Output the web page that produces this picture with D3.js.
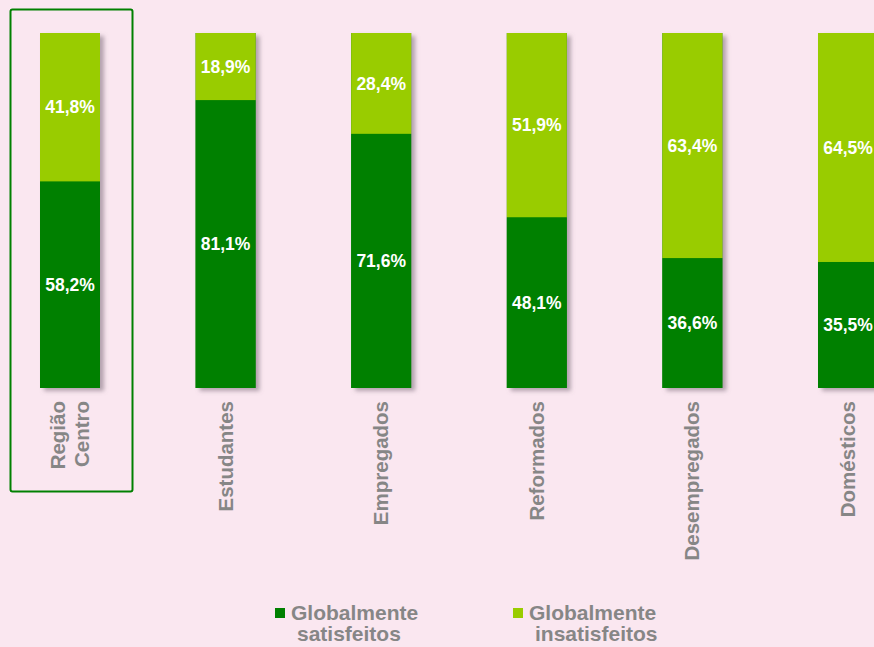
<!DOCTYPE html>
<html lang="pt">
<head>
<meta charset="utf-8">
<title>Satisfação global</title>
<style>
  html, body { margin: 0; padding: 0; background: #fae7f0; overflow: hidden; }
  svg { display: block; font-family: Arial, "Liberation Sans", sans-serif; }
  .val { fill: #fff; font-weight: bold; font-size: 17.5px; }
  .cat { fill: #868686; font-weight: bold; font-size: 20.5px; }
  .leg { fill: #868686; font-weight: bold; font-size: 21px; }
</style>
<script src="https://d3js.org/d3.v7.min.js"></script>
</head>
<body>
<svg width="874" height="647"></svg>
<script>
// data
var categories = ["Região Centro", "Estudantes", "Empregados", "Reformados", "Desempregados", "Domésticos"];
var satisfeitos = [58.2, 81.1, 71.6, 48.1, 36.6, 35.5];
var insatisfeitos = [41.8, 18.9, 28.4, 51.9, 63.4, 64.5];
var seriesNames = [["Globalmente", "satisfeitos"], ["Globalmente", "insatisfeitos"]];
var colors = ["#008000", "#99cc00"];

var svg = d3.select("svg");

var defs = svg.append("defs");
defs.append("filter")
    .attr("id", "shadow")
    .attr("x", "-20%").attr("y", "-5%")
    .attr("width", "150%").attr("height", "115%")
  .append("feDropShadow")
    .attr("dx", 4).attr("dy", 3)
    .attr("stdDeviation", 2)
    .attr("flood-color", "#7a6a78")
    .attr("flood-opacity", 0.55);

var x = d3.scaleBand().domain(categories).range([40, 878]).paddingInner(0.6144).paddingOuter(0);
var y = d3.scaleLinear().domain([0, 100]).range([388, 33]);

var data = categories.map(function(c, i) {
  return { cat: c, sat: satisfeitos[i], ins: insatisfeitos[i] };
});

// highlight box round the first category
svg.append("rect")
   .attr("x", 10.5).attr("y", 9.5)
   .attr("width", 122).attr("height", 482)
   .attr("rx", 2)
   .attr("fill", "none")
   .attr("stroke", "#008000")
   .attr("stroke-width", 2);

var g = svg.selectAll(".barg")
   .data(data)
   .enter()
   .append("g")
   .attr("class", "barg");

// shadow under whole bar
g.append("rect")
   .attr("x", function(d) { return x(d.cat); })
   .attr("y", y(100))
   .attr("width", x.bandwidth())
   .attr("height", y(0) - y(100))
   .attr("fill", colors[0])
   .attr("filter", "url(#shadow)");

g.append("rect")
   .attr("x", function(d) { return x(d.cat); })
   .attr("y", function(d) { return y(d.sat); })
   .attr("width", x.bandwidth())
   .attr("height", function(d) { return y(0) - y(d.sat); })
   .attr("fill", colors[0]);

g.append("rect")
   .attr("x", function(d) { return x(d.cat); })
   .attr("y", function(d) { return y(d.sat + d.ins); })
   .attr("width", x.bandwidth())
   .attr("height", function(d) { return y(d.sat) - y(d.sat + d.ins); })
   .attr("fill", colors[1]);

function fmt(v) { return v.toFixed(1).replace(".", ",") + "%"; }

g.append("text")
   .attr("class", "val")
   .attr("text-anchor", "middle")
   .attr("x", function(d) { return x(d.cat) + x.bandwidth() / 2; })
   .attr("y", function(d) { return (y(0) + y(d.sat)) / 2; })
   .attr("dy", "0.36em")
   .text(function(d) { return fmt(d.sat); });

g.append("text")
   .attr("class", "val")
   .attr("text-anchor", "middle")
   .attr("x", function(d) { return x(d.cat) + x.bandwidth() / 2; })
   .attr("y", function(d) { return (y(d.sat) + y(d.sat + d.ins)) / 2; })
   .attr("dy", "0.36em")
   .text(function(d) { return fmt(d.ins); });

// category labels, rotated
g.append("text")
   .attr("class", "cat")
   .attr("text-anchor", "end")
   .attr("transform", function(d) {
     return "translate(" + (x(d.cat) + x.bandwidth() / 2) + ",401) rotate(-90)";
   })
   .each(function(d) {
     var words = d.cat.split(" ");
     var t = d3.select(this);
     var off = -(words.length - 1) * 24 / 2 + 7;
     words.forEach(function(w, i) {
       t.append("tspan").attr("x", 0).attr("y", off + i * 24).text(w);
     });
   });

// legend
var legX = [275, 513];
var leg = svg.selectAll(".legg")
   .data(seriesNames)
   .enter()
   .append("g")
   .attr("class", "legg")
   .attr("transform", function(d, i) { return "translate(" + legX[i] + ",0)"; });

leg.append("rect")
   .attr("x", 0).attr("y", 608)
   .attr("width", 10).attr("height", 10)
   .attr("fill", function(d, i) { return colors[i]; });

leg.append("text")
   .attr("class", "leg")
   .attr("x", 16).attr("y", 620)
   .text(function(d) { return d[0]; });

leg.append("text")
   .attr("class", "leg")
   .attr("x", 22).attr("y", 641)
   .text(function(d) { return d[1]; });
</script>
</body>
</html>
